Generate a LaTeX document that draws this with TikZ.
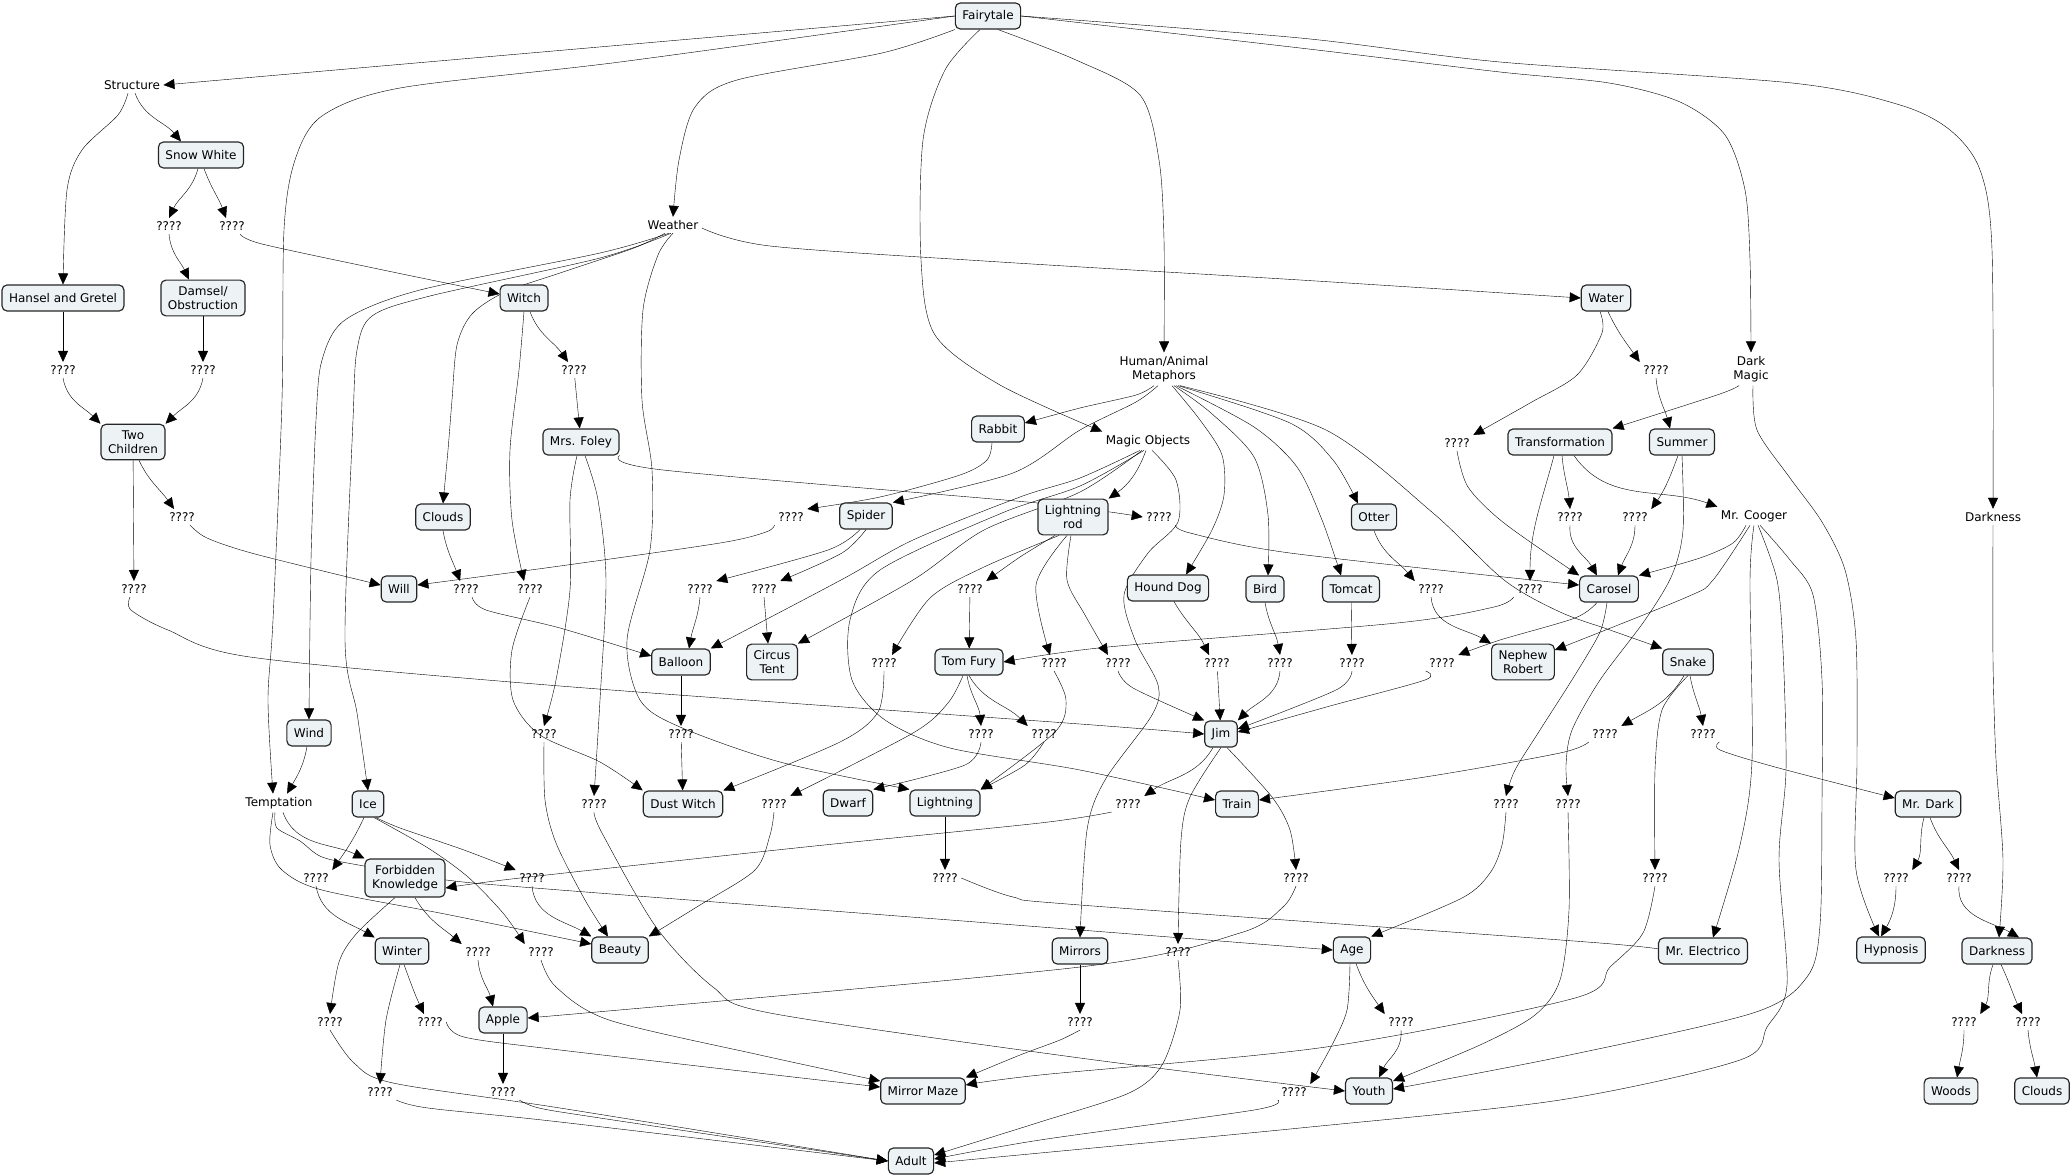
\documentclass[tikz,border=0pt]{standalone}
\usepackage{fontspec}
\setmainfont{DejaVu Sans}
\usetikzlibrary{arrows.meta}
\pgfdeclarelayer{background}
\pgfsetlayers{background,main}
\definecolor{cfill}{RGB}{237,243,245}
\tikzset{
  concept/.style={draw=black!85, fill=cfill, rounded corners=5pt, align=center,
    inner xsep=7pt, inner ysep=6pt, minimum height=26pt, font=\fontsize{12}{14.5}\selectfont},
  phrase/.style={align=center, inner sep=3pt, font=\fontsize{12}{14.5}\selectfont},
  qq/.style={inner sep=3pt, font=\fontsize{12}{14.5}\selectfont},
  arr/.style={-{Triangle[length=11pt,width=10pt]}}
}
\begin{document}
\begin{tikzpicture}[x=1pt, y=-1pt, line width=1.15pt]
\useasboundingbox (0,0) rectangle (2072,1175);
\node[concept] (fairy) at (988,16) {Fairytale};
\node[phrase] (structure) at (132,85) {Structure};
\node[concept] (snow) at (201,155) {Snow White};
\node[concept] (hansel) at (63,298) {Hansel and Gretel};
\node[concept] (damsel) at (203,298) {Damsel/\\Obstruction};
\node[concept] (twochild) at (133,442) {Two\\Children};
\node[concept] (witch) at (524,298) {Witch};
\node[phrase] (weather) at (673,225) {Weather};
\node[concept] (water) at (1606,298) {Water};
\node[phrase] (ham) at (1164,369) {Human/Animal\\Metaphors};
\node[phrase] (darkmagic) at (1751,369) {Dark\\Magic};
\node[concept] (mrsfoley) at (581,442) {Mrs. Foley};
\node[concept] (rabbit) at (998,429) {Rabbit};
\node[phrase] (magic) at (1148,441) {Magic Objects};
\node[concept] (transf) at (1560,442) {Transformation};
\node[concept] (summer) at (1682,442) {Summer};
\node[concept] (clouds) at (443,517) {Clouds};
\node[concept] (spider) at (866,516) {Spider};
\node[concept] (ltrod) at (1073,517) {Lightning\\rod};
\node[concept] (otter) at (1374,517) {Otter};
\node[phrase] (cooger) at (1754,516) {Mr. Cooger};
\node[phrase] (darkness) at (1993,517) {Darkness};
\node[concept] (will) at (399,589) {Will};
\node[concept] (hound) at (1168,588) {Hound Dog};
\node[concept] (bird) at (1265,589) {Bird};
\node[concept] (tomcat) at (1351,589) {Tomcat};
\node[concept] (carosel) at (1609,589) {Carosel};
\node[concept] (balloon) at (681,662) {Balloon};
\node[concept] (circus) at (772,662) {Circus\\Tent};
\node[concept] (tomfury) at (969,662) {Tom Fury};
\node[concept] (nephew) at (1523,662) {Nephew\\Robert};
\node[concept] (snake) at (1688,662) {Snake};
\node[concept] (wind) at (309,733) {Wind};
\node[concept] (jim) at (1221,734) {Jim};
\node[phrase] (tempt) at (279,803) {Temptation};
\node[concept] (ice) at (368,804) {Ice};
\node[concept] (dustwitch) at (683,804) {Dust Witch};
\node[concept] (dwarf) at (848,803) {Dwarf};
\node[concept] (lightning) at (945,803) {Lightning};
\node[concept] (train) at (1237,804) {Train};
\node[concept] (mrdark) at (1928,804) {Mr. Dark};
\node[concept] (fk) at (405,878) {Forbidden\\Knowledge};
\node[concept] (winter) at (402,951) {Winter};
\node[concept] (beauty) at (620,950) {Beauty};
\node[concept] (mirrors) at (1080,951) {Mirrors};
\node[concept] (age) at (1352,950) {Age};
\node[concept] (electrico) at (1703,951) {Mr. Electrico};
\node[concept] (hypnosis) at (1891,950) {Hypnosis};
\node[concept] (darkbox) at (1997,951) {Darkness};
\node[concept] (apple) at (503,1020) {Apple};
\node[concept] (mmaze) at (923,1091) {Mirror Maze};
\node[concept] (youth) at (1369,1091) {Youth};
\node[concept] (woods) at (1951,1091) {Woods};
\node[concept] (clouds2) at (2042,1091) {Clouds};
\node[concept] (adult) at (911,1161) {Adult};
\node[qq] (q1) at (169,226) {????};
\node[qq] (q2) at (232,226) {????};
\node[qq] (q3) at (63,370) {????};
\node[qq] (q4) at (203,370) {????};
\node[qq] (q5) at (574,370) {????};
\node[qq] (q6) at (182,517) {????};
\node[qq] (q7) at (134,589) {????};
\node[qq] (q8) at (466,589) {????};
\node[qq] (q9) at (530,589) {????};
\node[qq] (q10) at (791,517) {????};
\node[qq] (q11) at (700,589) {????};
\node[qq] (q12) at (764,589) {????};
\node[qq] (q13) at (970,589) {????};
\node[qq] (q14) at (1159,517) {????};
\node[qq] (q15) at (884,663) {????};
\node[qq] (q16) at (1054,663) {????};
\node[qq] (q17) at (1118,663) {????};
\node[qq] (q18) at (1217,663) {????};
\node[qq] (q19) at (1280,663) {????};
\node[qq] (q20) at (1352,663) {????};
\node[qq] (q21) at (1431,589) {????};
\node[qq] (q22) at (1442,663) {????};
\node[qq] (q23) at (1530,589) {????};
\node[qq] (q24) at (1457,443) {????};
\node[qq] (q25) at (1656,370) {????};
\node[qq] (q26) at (1570,517) {????};
\node[qq] (q27) at (1635,517) {????};
\node[qq] (q28) at (1605,734) {????};
\node[qq] (q29) at (1703,734) {????};
\node[qq] (q30) at (544,734) {????};
\node[qq] (q31) at (681,734) {????};
\node[qq] (q32) at (981,734) {????};
\node[qq] (q33) at (1044,734) {????};
\node[qq] (q34) at (594,804) {????};
\node[qq] (q35) at (774,804) {????};
\node[qq] (q36) at (1128,804) {????};
\node[qq] (q37) at (1296,878) {????};
\node[qq] (q38) at (1178,952) {????};
\node[qq] (q39) at (945,878) {????};
\node[qq] (q40) at (316,878) {????};
\node[qq] (q41) at (532,878) {????};
\node[qq] (q42) at (478,952) {????};
\node[qq] (q43) at (330,1022) {????};
\node[qq] (q44) at (430,1022) {????};
\node[qq] (q45) at (380,1092) {????};
\node[qq] (q46) at (503,1092) {????};
\node[qq] (q47) at (541,952) {????};
\node[qq] (q48) at (1506,804) {????};
\node[qq] (q49) at (1568,804) {????};
\node[qq] (q50) at (1655,878) {????};
\node[qq] (q51) at (1080,1022) {????};
\node[qq] (q52) at (1294,1092) {????};
\node[qq] (q53) at (1401,1022) {????};
\node[qq] (q54) at (1896,878) {????};
\node[qq] (q55) at (1959,878) {????};
\node[qq] (q56) at (1964,1022) {????};
\node[qq] (q57) at (2028,1022) {????};
\begin{pgfonlayer}{background}
\fill[white] (0,0) rectangle (2072,1175);
\draw[arr] (fairy.west) -- (structure.east);
\draw[arr] plot[smooth] coordinates {(fairy.west) (620,62) (400,88) (322,116) (295,160) (284,230) (282,400) (273,620) (268,700) ([xshift=-6pt]tempt.north)};
\draw[arr] plot[smooth] coordinates {(fairy.south west) (882,53) (737,80) (695,107) (679,160) (weather.north)};
\draw[arr] plot[smooth] coordinates {([xshift=-8pt]fairy.south) (945,70) (923,140) (921,260) (935,335) (1000,385) (magic.north west)};
\draw[arr] plot[smooth] coordinates {([xshift=10pt]fairy.south) (1076,60) (1140,95) (1159,160) (1164,240) (ham.north)};
\draw[arr] plot[smooth] coordinates {(fairy.east) (1300,48) (1500,72) (1609,83) (1680,102) (1725,135) (1745,190) (1750,260) (darkmagic.north)};
\draw[arr] plot[smooth] coordinates {(fairy.east) (1300,38) (1500,62) (1792,83) (1900,105) (1950,130) (1980,170) (1992,250) (darkness.north)};
\draw[arr] plot[smooth] coordinates {([xshift=-4pt]structure.south) (118,115) (82,150) (67,190) (hansel.north)};
\draw[arr] ([xshift=3pt]structure.south) to[out=-70,in=130] ([xshift=-20pt]snow.north);
\draw[arr] ([xshift=-3pt]snow.south) to[out=-105,in=65] (q1.north);
\draw[arr] ([xshift=3pt]snow.south) to[out=-70,in=110] ([xshift=-6pt]q2.north);
\draw[arr] (q1.south) to[out=-85,in=115] ([xshift=-14pt]damsel.north);
\draw[arr] plot[smooth] coordinates {([xshift=8pt]q2.south) (262,244) (383,270) ([yshift=4pt]witch.west)};
\draw[arr] (hansel) -- (q3);
\draw[arr] (damsel) -- (q4);
\draw[arr] (q3.south) to[out=-80,in=135] (twochild.north west);
\draw[arr] (q4.south) to[out=-100,in=45] (twochild.north east);
\draw[arr] ([xshift=6pt]twochild.south) to[out=-65,in=125] ([xshift=-8pt]q6.north);
\draw[arr] (twochild) -- (q7);
\draw[arr] plot[smooth] coordinates {([xshift=8pt]q6.south) (207,538) (255,554) ([yshift=4pt]will.west)};
\draw[arr] plot[smooth] coordinates {([xshift=-4pt]q7.south) (131,610) (168,630) (250,657) (560,686) (1080,724) (jim.west)};
\draw[arr] ([xshift=6pt]witch.south) to[out=-70,in=125] ([xshift=-6pt]q5.north);
\draw[arr] (q5) -- (mrsfoley);
\draw[arr] plot[smooth] coordinates {(witch.south) (519,370) (510,450) (512,520) ([xshift=-6pt]q9.north)};
\draw[arr] plot[smooth] coordinates {(q9.south) (512,650) (513,700) (540,735) (600,762) (dustwitch.north west)};
\draw[arr] plot[smooth] coordinates {(mrsfoley.south east) (663,470) (1038,503) (1110,512) (q14.west)};
\draw[arr] plot[smooth] coordinates {([xshift=-4pt]mrsfoley.south) (570,500) (570,590) (556,680) (q30.north)};
\draw[arr] plot[smooth] coordinates {([xshift=4pt]mrsfoley.south) (598,500) (606,580) (600,700) (q34.north)};
\draw[arr] plot[smooth] coordinates {(q30.south) (545,800) (556,843) (585,900) ([xshift=-12pt]beauty.north)};
\draw[arr] plot[smooth] coordinates {(q34.south) (602,833) (656,927) (713,987) (770,1013) (1080,1058) (youth.west)};
\draw[arr] plot[smooth] coordinates {([yshift=-3pt]weather.east) (770,246) (1000,262) (1300,280) (water.west)};
\draw[arr] plot[smooth] coordinates {([xshift=-8pt]weather.south) (634,248) (560,273) (505,292) (472,314) (457,345) (452,400) (448,450) (clouds.north)};
\draw[arr] plot[smooth] coordinates {([xshift=-4pt]weather.south) (600,253) (420,290) (345,320) (322,360) (316,420) (311,560) (wind.north)};
\draw[arr] plot[smooth] coordinates {([xshift=-2pt]weather.south) (600,258) (430,296) (372,316) (357,350) (353,420) (345,640) (357,713) (ice.north)};
\draw[arr] plot[smooth] coordinates {(weather.south) (658,255) (643,310) (642,400) (652,470) (650,550) (627,640) (640,700) (680,727) (780,762) (lightning.north west)};
\draw[arr] (clouds.south) to[out=-80,in=110] ([xshift=-6pt]q8.north);
\draw[arr] plot[smooth] coordinates {([xshift=6pt]q8.south) (486,610) (560,628) ([yshift=6pt]balloon.west)};
\draw[arr] plot[smooth] coordinates {([xshift=-6pt]rabbit.south) (987,460) (960,475) (880,497) (q10.north east)};
\draw[arr] plot[smooth] coordinates {(q10.south west) (766,532) (720,543) (560,566) ([yshift=4pt]will.east)};
\draw[arr] plot[smooth] coordinates {([xshift=-6pt]spider.south) (828,550) (q11.north east)};
\draw[arr] plot[smooth] coordinates {(spider.south) (842,553) (q12.north east)};
\draw[arr] (q11.south) to[out=-95,in=80] ([xshift=8pt]balloon.north);
\draw[arr] (q12.south) -- ([xshift=-4pt]circus.north);
\draw[arr] plot[smooth] coordinates {([xshift=-8pt]magic.south) (1080,478) (1020,497) (913,540) (841,580) (balloon.north east)};
\draw[arr] plot[smooth] coordinates {([xshift=-6pt]magic.south) (1080,492) (984,530) (913,580) (circus.north east)};
\draw[arr] plot[smooth] coordinates {([xshift=-4pt]magic.south) (1080,486) (1002,513) (880,570) (850,620) (852,680) (885,720) (950,748) (1080,770) ([yshift=4pt]train.west)};
\draw[arr] ([xshift=-2pt]magic.south) to[out=-110,in=35] (ltrod.north east);
\draw[arr] plot[smooth] coordinates {([xshift=4pt]magic.south) (1176,480) (1178,522) (1148,553) (1124,595) (1135,640) (1158,685) (1152,715) (1105,780) (1087,830) (mirrors.north)};
\draw[arr] plot[smooth] coordinates {([xshift=-10pt]ham.south) (1136,395) (1080,408) ([yshift=6pt]rabbit.east)};
\draw[arr] plot[smooth] coordinates {([xshift=-6pt]ham.south) (1136,402) (1080,430) (1013,473) (spider.north east)};
\draw[arr] plot[smooth] coordinates {([xshift=8pt]ham.south) (1200,420) (1222,455) (1224,495) (1212,530) ([xshift=18pt]hound.north)};
\draw[arr] plot[smooth] coordinates {([xshift=10pt]ham.south) (1211,413) (1254,457) (1268,515) ([xshift=3pt]bird.north)};
\draw[arr] plot[smooth] coordinates {([xshift=12pt]ham.south) (1254,427) (1297,467) (1322,520) ([xshift=-10pt]tomcat.north)};
\draw[arr] plot[smooth] coordinates {([xshift=14pt]ham.south) (1290,423) (1333,460) ([xshift=-16pt]otter.north)};
\draw[arr] plot[smooth] coordinates {([xshift=16pt]ham.south) (1326,430) (1433,513) (1504,580) (1560,612) (1610,630) (snake.north west)};
\draw[arr] plot[smooth] coordinates {([xshift=-18pt]ltrod.south) (1020,557) (q13.north east)};
\draw[arr] plot[smooth] coordinates {([xshift=-14pt]ltrod.south) (984,567) (930,598) ([xshift=8pt]q15.north)};
\draw[arr] plot[smooth] coordinates {([xshift=-6pt]ltrod.south) (1036,585) ([xshift=-4pt]q16.north)};
\draw[arr] plot[smooth] coordinates {([xshift=-2pt]ltrod.south) (1067,580) (1085,615) ([xshift=-10pt]q17.north)};
\draw[arr] (q13) -- (tomfury);
\draw[arr] plot[smooth] coordinates {(q15.south) (878,712) (840,742) (dustwitch.north east)};
\draw[arr] plot[smooth] coordinates {(q16.south) (1066,700) (1055,732) (lightning.north east)};
\draw[arr] plot[smooth] coordinates {(q17.south) (1133,688) (jim.north west)};
\draw[arr] plot[smooth] coordinates {(q14.south east) (1190,533) (1290,553) ([yshift=4pt]carosel.west)};
\draw[arr] ([xshift=-2pt]tomfury.south) to[out=-80,in=95] (q32.north);
\draw[arr] (tomfury.south) to[out=-60,in=135] (q33.north west);
\draw[arr] plot[smooth] coordinates {([xshift=-6pt]tomfury.south) (948,703) (913,733) (q35.north east)};
\draw[arr] plot[smooth] coordinates {(q32.south) (965,765) (dwarf.north east)};
\draw[arr] plot[smooth] coordinates {(q33.south) (1025,765) (lightning.north east)};
\draw[arr] plot[smooth] coordinates {(q35.south) (770,835) (755,870) (700,905) (beauty.north east)};
\draw[arr] (balloon) -- (q31);
\draw[arr] (q31) -- (dustwitch);
\draw[arr] (otter.south) to[out=-70,in=130] (q21.north west);
\draw[arr] (q21.south) to[out=-85,in=150] (nephew.north west);
\draw[arr] ([xshift=6pt]hound.south) to[out=-60,in=115] ([xshift=-8pt]q18.north);
\draw[arr] (q18) -- (jim);
\draw[arr] (bird.south) to[out=-80,in=100] (q19.north);
\draw[arr] (q19.south) to[out=-95,in=45] (jim.north east);
\draw[arr] (tomcat) -- (q20);
\draw[arr] plot[smooth] coordinates {(q20.south) (1336,690) ([yshift=5pt]jim.east)};
\draw[arr] plot[smooth] coordinates {(q22.south west) (1425,680) (1330,706) ([yshift=2pt]jim.east)};
\draw[arr] plot[smooth] coordinates {([xshift=-12pt]carosel.south) (1575,618) (1500,640) (q22.north east)};
\draw[arr] plot[smooth] coordinates {(q23.south west) (1494,607) (1397,623) (1108,647) (tomfury.east)};
\draw[arr] ([xshift=-6pt]transf.south) to[out=-105,in=90] (q23.north);
\draw[arr] ([xshift=2pt]transf.south) to[out=-85,in=95] (q26.north);
\draw[arr] ([xshift=14pt]transf.south) to[out=-55,in=160] (cooger.north west);
\draw[arr] (q26.south) to[out=-95,in=120] ([xshift=-12pt]carosel.north);
\draw[arr] (q27.south) to[out=-90,in=70] ([xshift=9pt]carosel.north);
\draw[arr] plot[smooth] coordinates {(q24.south) (1468,487) (1504,523) (carosel.north west)};
\draw[arr] plot[smooth] coordinates {([xshift=-6pt]water.south) (1602,333) (1577,375) (1530,403) (q24.north east)};
\draw[arr] ([xshift=2pt]water.south) to[out=-65,in=125] (q25.north west);
\draw[arr] (q25.south) to[out=-85,in=105] ([xshift=-12pt]summer.north);
\draw[arr] plot[smooth] coordinates {([xshift=-12pt]darkmagic.south) (1717,395) (transf.north east)};
\draw[arr] plot[smooth] coordinates {([xshift=2pt]darkmagic.south) (1757,430) (1790,478) (1822,522) (1845,570) (1856,640) (1857,760) (1856,870) ([xshift=-12pt]hypnosis.north)};
\draw[arr] ([xshift=-4pt]summer.south) to[out=-110,in=55] (q27.north east);
\draw[arr] plot[smooth] coordinates {(summer.south) (1683,530) (1672,575) (1645,620) (1600,680) (1572,730) (1566,765) (q49.north)};
\draw[arr] plot[smooth] coordinates {([xshift=-2pt]carosel.south) (1600,632) (1575,675) (1540,730) (1515,770) (q48.north)};
\draw[arr] plot[smooth] coordinates {(q48.south) (1502,845) (1490,873) (1462,898) (age.north east)};
\draw[arr] plot[smooth] coordinates {(q49.south) (1569,910) (1560,980) (1535,1015) (1480,1045) ([yshift=10pt]youth.east)};
\draw[arr] plot[smooth] coordinates {([xshift=-8pt]cooger.south) (1733,543) (1700,558) (carosel.north east)};
\draw[arr] plot[smooth] coordinates {([xshift=-4pt]cooger.south) (1713,580) (1687,597) ([yshift=12pt]nephew.east)};
\draw[arr] plot[smooth] coordinates {(cooger.south) (1750,580) (1752,760) (1740,845) ([xshift=10pt]electrico.north)};
\draw[arr] plot[smooth] coordinates {([xshift=4pt]cooger.south) (1777,580) (1783,650) (1786,770) (1779,860) (1787,985) (1767,1027) (1740,1060) (1560,1100) (1300,1128) ([yshift=-2pt]adult.east)};
\draw[arr] plot[smooth] coordinates {([xshift=6pt]cooger.south) (1790,560) (1813,595) (1822,680) (1822,800) (1820,925) (1807,977) (1753,1013) (1560,1057) ([yshift=2pt]youth.east)};
\draw[arr] ([xshift=-4pt]snake.south) to[out=-120,in=30] (q28.north east);
\draw[arr] plot[smooth] coordinates {(snake.south) (1662,710) (1655,770) (q50.north)};
\draw[arr] ([xshift=2pt]snake.south) to[out=-80,in=100] (q29.north);
\draw[arr] plot[smooth] coordinates {(q28.south west) (1560,753) (1425,777) ([yshift=4pt]train.east)};
\draw[arr] plot[smooth] coordinates {(q29.south east) (1720,750) (1775,767) ([yshift=6pt]mrdark.west)};
\draw[arr] plot[smooth] coordinates {(q50.south) (1643,933) (1610,967) (1575,998) (1326,1047) (1040,1075) ([yshift=6pt]mmaze.east)};
\draw[arr] ([xshift=-4pt]mrdark.south) to[out=-105,in=60] (q54.north east);
\draw[arr] ([xshift=2pt]mrdark.south) to[out=-70,in=115] (q55.north);
\draw[arr] (q54.south) to[out=-90,in=60] ([xshift=-10pt]hypnosis.north);
\draw[arr] (q55.south) to[out=-95,in=150] ([xshift=22pt]darkbox.north);
\draw[arr] plot[smooth] coordinates {(darkness.south) (1993,660) (1996,760) (2003,860) ([xshift=2pt]darkbox.north)};
\draw[arr] ([xshift=-4pt]darkbox.south) to[out=-110,in=60] (q56.north east);
\draw[arr] ([xshift=4pt]darkbox.south) to[out=-65,in=115] ([xshift=-6pt]q57.north);
\draw[arr] (q56.south) to[out=-90,in=80] ([xshift=6pt]woods.north);
\draw[arr] (q57.south) to[out=-85,in=100] ([xshift=-5pt]clouds2.north);
\draw[arr] ([xshift=-2pt]wind.south) to[out=-100,in=60] ([xshift=8pt]tempt.north);
\draw[arr] ([xshift=4pt]tempt.south) to[out=-70,in=155] (fk.north west);
\draw[arr] plot[smooth] coordinates {([xshift=-4pt]tempt.south) (277,828) (300,841) (322,857) (364,866) (446,880) (560,890) (1080,930) (age.west)};
\draw[arr] plot[smooth] coordinates {([xshift=-6pt]tempt.south) (270,845) (282,870) (322,890) (450,915) ([yshift=6pt]beauty.west)};
\draw[arr] ([xshift=-4pt]ice.south) to[out=-115,in=55] (q40.north east);
\draw[arr] plot[smooth] coordinates {([xshift=8pt]ice.south) (400,828) (464,850) (q41.north west)};
\draw[arr] plot[smooth] coordinates {([xshift=6pt]ice.south) (428,848) (468,877) (503,913) (q47.north west)};
\draw[arr] (q40.south) to[out=-80,in=150] (winter.north west);
\draw[arr] (q41.south) to[out=-85,in=150] (beauty.north west);
\draw[arr] plot[smooth] coordinates {(q36.south west) (1040,823) (805,847) (520,878) ([yshift=-10pt]fk.east)};
\draw[arr] ([xshift=10pt]fk.south) to[out=-60,in=140] (q42.north west);
\draw[arr] plot[smooth] coordinates {([xshift=-10pt]fk.south) (357,933) (339,962) (q43.north)};
\draw[arr] (q42.south) to[out=-85,in=105] ([xshift=-10pt]apple.north);
\draw[arr] ([xshift=2pt]winter.south) to[out=-70,in=115] ([xshift=-6pt]q44.north);
\draw[arr] plot[smooth] coordinates {([xshift=-2pt]winter.south) (386,1020) (q45.north)};
\draw[arr] plot[smooth] coordinates {(q43.south) (354,1063) (393,1083) (560,1108) (adult.west)};
\draw[arr] plot[smooth] coordinates {(q45.south east) (428,1108) (560,1122) (adult.west)};
\draw[arr] plot[smooth] coordinates {(q46.south east) (539,1108) (600,1118) (adult.west)};
\draw[arr] plot[smooth] coordinates {(q44.east) (464,1037) (560,1050) ([yshift=4pt]mmaze.west)};
\draw[arr] plot[smooth] coordinates {(q47.south) (556,987) (609,1020) (760,1055) ([yshift=10pt]mmaze.west)};
\draw[arr] (apple) -- (q46);
\draw[arr] plot[smooth] coordinates {(q37.south) (1283,907) (1240,933) (1080,967) ([yshift=2pt]apple.east)};
\draw[arr] plot[smooth] coordinates {([xshift=6pt]jim.south) (1272,797) (1290,830) (q37.north)};
\draw[arr] ([xshift=-8pt]jim.south) to[out=-120,in=35] (q36.north east);
\draw[arr] plot[smooth] coordinates {(jim.south) (1190,797) (1181,840) (q38.north)};
\draw[arr] plot[smooth] coordinates {(q38.south) (1180,1010) (1162,1065) (1129,1093) (1040,1122) ([yshift=6pt]adult.east)};
\draw[arr] (lightning) -- (q39);
\draw[arr] plot[smooth] coordinates {(q39.east) (1013,897) (1080,905) (1600,943) (electrico.west)};
\draw[arr] (mirrors) -- (q51);
\draw[arr] plot[smooth] coordinates {(q51.south) (1060,1040) (1020,1055) (mmaze.north east)};
\draw[arr] plot[smooth] coordinates {([xshift=-2pt]age.south) (1347,1010) (1332,1045) (q52.north east)};
\draw[arr] ([xshift=4pt]age.south) to[out=-70,in=125] (q53.north west);
\draw[arr] (q53.south) to[out=-85,in=65] ([xshift=10pt]youth.north);
\draw[arr] plot[smooth] coordinates {(q52.south west) (1254,1110) (1040,1140) ([yshift=2pt]adult.east)};
\end{pgfonlayer}
\end{tikzpicture}
\end{document}
